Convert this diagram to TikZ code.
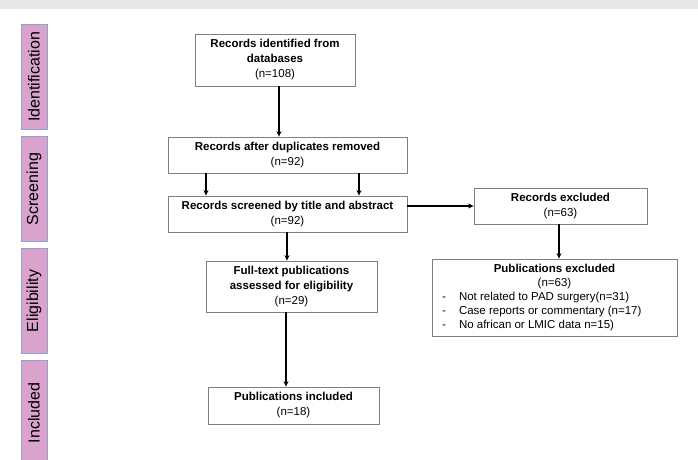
\documentclass[tikz,border=0pt]{standalone}
\usepackage{fontspec}
\setmainfont{Liberation Sans}
\usetikzlibrary{arrows.meta}
\definecolor{stagepink}{HTML}{D9A3CE}
\definecolor{stageline}{HTML}{8FA3C9}
\definecolor{stripgrey}{HTML}{E6E7E9}
\definecolor{boxline}{HTML}{7F7F7F}

\begin{document}
\begin{tikzpicture}[x=1pt,y=-1pt]
\tikzset{
	stage/.style={draw=stageline,
		fill=stagepink,
		line width=0.9pt,
		rotate=90,
		minimum width=105pt, % along the text
		minimum height=26pt,
		inner sep=0pt,
		font=\fontsize{16}{18}\selectfont},
	record/.style={draw=boxline,
		line width=0.8pt,
		align=center,
		inner sep=2pt,
		font=\fontsize{11.5}{15}\selectfont},
	flow/.style={-{Stealth[length=5.5pt,width=5pt]}, line width=1.5pt}
}

\useasboundingbox (0,0) rectangle (698,459);
\fill[stripgrey] (0,0) rectangle (698,8.5);

% stages on the left
\node[stage] (SIdent) at (34,77) {Identification};
\node[stage] (SScreen) at (34,189) {Screening};
\node[stage] (SElig) at (34,301) {Eligibility};
\node[stage] (SIncl) at (34,413) {Included};

% main column
\node[record, minimum width=160pt, minimum height=52pt] (RId) at (275,60) {\textbf{Records identified from}\\\textbf{databases}\\(n=108)};
\node[record, minimum width=239pt, minimum height=36pt] (RDup) at (287.5,155) {\textbf{Records after duplicates removed}\\(n=92)};
\node[record, minimum width=239pt, minimum height=36pt] (RScr) at (287.5,214) {\textbf{Records screened by title and abstract}\\(n=92)};
\node[record, minimum width=171pt, minimum height=51pt] (FText) at (291.5,286.5) {\textbf{Full-text publications}\\\textbf{assessed for eligibility}\\(n=29)};
\node[record, minimum width=171pt, minimum height=37pt] (PIncl) at (293.5,405.5) {\textbf{Publications included}\\(n=18)};

% exclusions
\node[record, minimum width=173pt, minimum height=36pt] (RExc) at (560.5,206) {\textbf{Records excluded}\\(n=63)};
\node[record, minimum width=245pt, minimum height=77pt, inner sep=0pt, font=\fontsize{11.5}{14}\selectfont] (PExc) at (554.5,297.5) {%
	\begin{tabular}{@{}p{17pt}@{}p{208pt}@{}}
		\multicolumn{2}{@{}c@{}}{\textbf{Publications excluded}}\\
		\multicolumn{2}{@{}c@{}}{(n=63)}\\
		- & Not related to PAD surgery(n=31)\\
		- & Case reports or commentary (n=17)\\
		- & No african or LMIC data n=15)\\
	\end{tabular}};

\draw[flow] (RId.south -| 279,0) -- (RDup.north -| 279,0);
\draw[flow] (RDup.south -| 206,0) -- (RScr.north -| 206,0);
\draw[flow] (RDup.south -| 359,0) -- (RScr.north -| 359,0);
\draw[flow] (RScr.east |- RExc.west) -- (RExc.west);
\draw[flow] (RScr.south -| 287,0) -- (FText.north -| 287,0);
\draw[flow] (FText.south -| 286,0) -- (PIncl.north -| 286,0);
\draw[flow] (RExc.south -| 559,0) -- (PExc.north -| 559,0);
\end{tikzpicture}
\end{document}
